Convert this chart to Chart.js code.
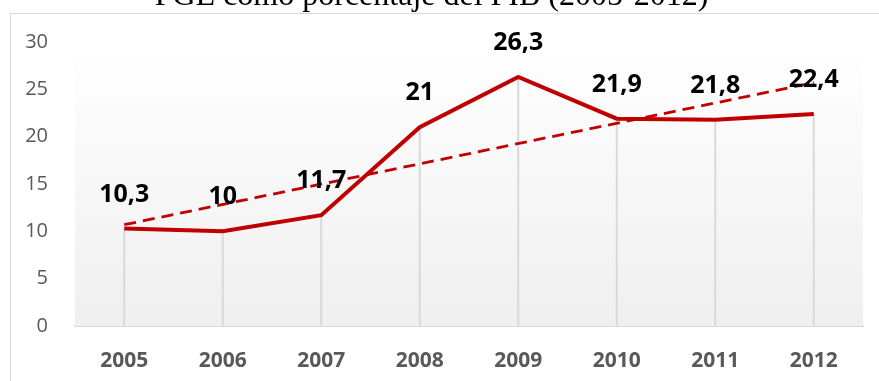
<!DOCTYPE html>
<html>
<head>
<meta charset="utf-8">
<script src="https://cdn.jsdelivr.net/npm/chart.js@4"></script>
<style>
    body { margin: 0; background: #fff; overflow: hidden; }
    #frame {
        position: absolute; left: 10px; top: 13px; width: 900px; height: 400px;
        border: 1px solid #d9d9d9; box-sizing: border-box;
    }
    #wrap { position: absolute; left: 0; top: -23px; width: 879px; height: 404px; }
</style>
</head>
<body>
<div id="frame"></div>
<div id="wrap"><canvas id="myChart"></canvas></div>
<script>
// Data
const years = ['2005', '2006', '2007', '2008', '2009', '2010', '2011', '2012'];
const pgeValues = [10.3, 10, 11.7, 21, 26.3, 21.9, 21.8, 22.4];
// Trend line, only the two ends are drawn
const trendValues = [10.7, null, null, null, null, null, null, 25.7];
const yTicks = [0, 5, 10, 15, 20, 25, 30];

const red = '#C00000';
const grey = '#595959';

// Light gradient behind the plot and the drop lines from each point
const plotBackground = {
    id: 'plotBackground',
    beforeDatasetsDraw(chart) {
        const { ctx, chartArea, scales } = chart;
        const g = ctx.createLinearGradient(0, chartArea.top, 0, chartArea.bottom);
        g.addColorStop(0, '#ffffff');
        g.addColorStop(1, '#efefef');
        ctx.save();
        ctx.fillStyle = g;
        ctx.fillRect(chartArea.left, chartArea.top, chartArea.right - chartArea.left, chartArea.bottom - chartArea.top);

        ctx.strokeStyle = '#d9d9d9';
        ctx.lineWidth = 2;
        pgeValues.forEach((v, i) => {
            const x = scales.x.getPixelForValue(i);
            ctx.beginPath();
            ctx.moveTo(x, scales.y.getPixelForValue(v));
            ctx.lineTo(x, scales.y.getPixelForValue(0));
            ctx.stroke();
        });
        ctx.restore();
    }
};

// Value labels above the points
const valueLabels = {
    id: 'valueLabels',
    afterDatasetsDraw(chart) {
        const { ctx, scales } = chart;
        ctx.save();
        ctx.font = 'bold 25px "Open Sans"';
        ctx.fillStyle = '#000';
        ctx.textAlign = 'center';
        ctx.textBaseline = 'middle';
        pgeValues.forEach((v, i) => {
            const x = scales.x.getPixelForValue(i);
            const y = scales.y.getPixelForValue(v) - 34;
            ctx.fillText(String(v).replace('.', ','), x, y);
        });
        ctx.restore();
    }
};

const ctx = document.getElementById('myChart');

const chart = new Chart(ctx, {
    type: 'line',
    data: {
        labels: years,
        datasets: [
            {
                label: 'PGE',
                data: pgeValues,
                borderColor: red,
                borderWidth: 4,
                pointRadius: 0,
                tension: 0,
            },
            {
                label: 'Tendencia',
                data: trendValues,
                borderColor: red,
                borderWidth: 2.8,
                borderDash: [12, 7],
                pointRadius: 0,
                spanGaps: true,
            }
        ]
    },
    options: {
        responsive: true,
        maintainAspectRatio: false,
        animation: false,
        layout: { padding: { left: 0, right: 16, top: 0, bottom: 0 } },
        plugins: {
            legend: { display: false },
            tooltip: { enabled: false },
            title: {
                display: true,
                text: 'PGE como porcentaje del PIB (2005-2012)',
                color: '#000',
                font: { family: '"Liberation Serif"', size: 32, weight: 'normal' },
                padding: { top: 0, bottom: 26.6 },
            }
        },
        scales: {
            x: {
                offset: true,
                grid: { display: false },
                border: { color: '#d9d9d9', width: 2 },
                ticks: {
                    color: grey,
                    padding: 14,
                    font: { family: '"Open Sans"', size: 21, weight: 'bold' },
                },
                afterFit(scale) { scale.height = 55; }
            },
            y: {
                min: 0,
                max: 30,
                grid: { display: false },
                border: { display: false },
                afterBuildTicks(scale) { scale.ticks = yTicks.map((v) => ({ value: v })); },
                ticks: {
                    color: grey,
                    padding: 19,
                    font: { family: '"Open Sans"', size: 20 },
                },
                afterFit(scale) { scale.width = 75; }
            }
        }
    },
    plugins: [plotBackground, valueLabels]
});
</script>
</body>
</html>
